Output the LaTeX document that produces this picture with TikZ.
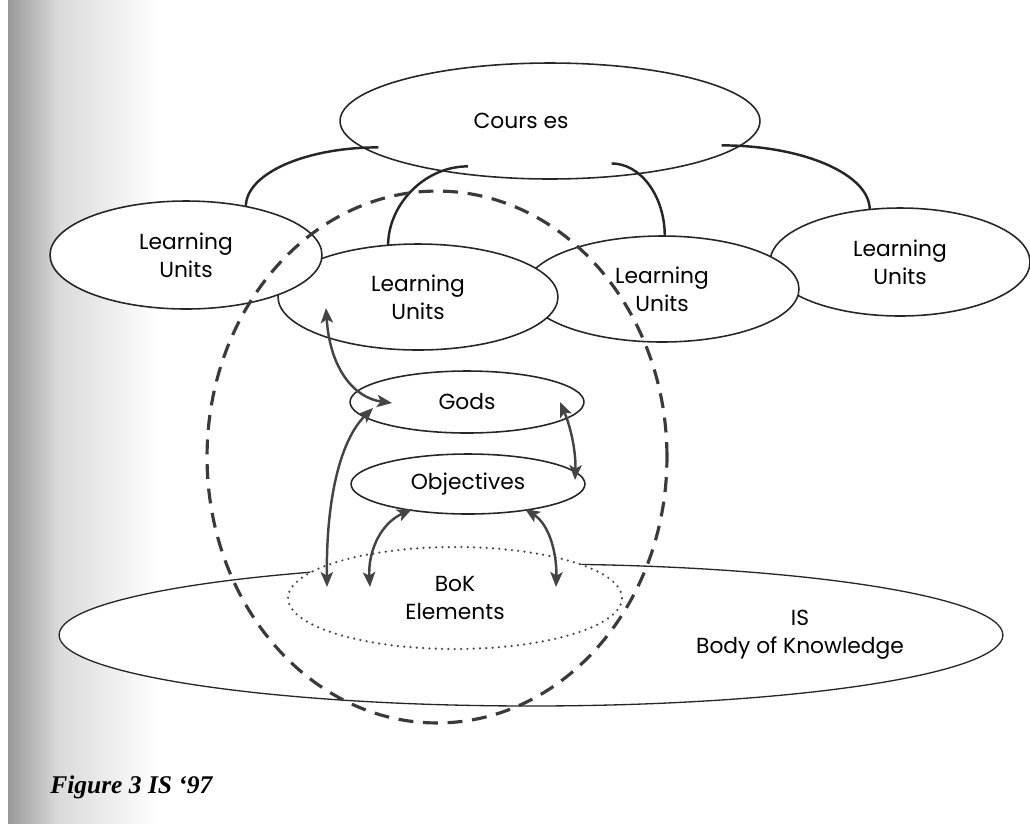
\documentclass[tikz,border=0pt]{standalone}
\usepackage{fontspec}
\setmainfont{Poppins}
\newfontfamily\capfont{Liberation Serif}
\usetikzlibrary{shapes.geometric,arrows.meta,calc}
\definecolor{ink}{HTML}{262626}
\definecolor{arr}{HTML}{444444}
\definecolor{dashc}{HTML}{3A3A3A}
\newcommand\lbl{\fontsize{12.4}{15.8}\selectfont}
\tikzset{
  oval/.style={ellipse, draw=ink, line width=0.9pt, fill=white, inner sep=0pt, outer sep=0pt, align=center, font=\lbl},
  dotline/.style={line width=1.4pt, line cap=round, dash pattern=on 0pt off 3.6pt},
  arcline/.style={draw=ink, line width=1.4pt},
  biarrow/.style={draw=arr, line width=1.4pt, {Stealth[length=8.5pt,width=7pt,inset=2pt]}-{Stealth[length=8.5pt,width=7pt,inset=2pt]}},
  scopeline/.style={draw=dashc, line width=1.8pt, dash pattern=on 8.5pt off 5.5pt},
  plain/.style={font=\lbl, align=center, inner sep=0pt}
}
\begin{document}
\begin{tikzpicture}[x=0.02cm, y=-0.02cm]
\useasboundingbox (0,0) rectangle (1030,823);
\shade[left color=black!40, right color=black!14] (8,0) rectangle (60,823);
\shade[left color=black!14, right color=white] (60,0) rectangle (160,823);
% body of knowledge
\node[oval, line width=0.75pt, minimum width=18.88cm, minimum height=2.84cm] (is) at (531,635) {};
\node[plain] (istext) at (800,635) {IS\\Body of Knowledge};
\node[oval, draw=ink!85, dotline, minimum width=6.68cm, minimum height=2.04cm] (bok) at (455,598) {BoK\\Elements};
% courses
\node[oval, minimum width=8.4cm, minimum height=2.32cm] (courses) at (550,121) {};
\node[plain] (coursestext) at (521,121) {Cours es};
% learning units
\node[oval, minimum width=5.2cm, minimum height=2.16cm] (lu4) at (900,262) {Learning\\Units};
\node[oval, minimum width=5.48cm, minimum height=2.12cm] (lu3) at (662,289) {Learning\\Units};
\node[oval, minimum width=5.6cm, minimum height=2.12cm] (lu2) at (418,297) {Learning\\Units};
\node[oval, minimum width=5.44cm, minimum height=2.16cm] (lu1) at (186,255) {Learning\\Units};
% goals / objectives
\node[oval, minimum width=4.68cm, minimum height=1.24cm] (goals) at (467,402) {Gods};
\node[oval, minimum width=4.68cm, minimum height=1.2cm] (obj) at (468,484) {Objectives};
% arcs from courses to learning units
\draw[arcline] ($(courses.191)+(0,-7)$) .. controls +(-73,0) and +(0,-33) .. (lu1.39);
\draw[arcline] ($(courses.213)+(0,-8)$) .. controls +(-44,0) and +(0,-40) .. (lu2.120);
\draw[arcline] ($(courses.318)+(0,-13)$) .. controls +(29,0) and +(0,-40) .. (lu3.87);
\draw[arcline] ($(courses.349)+(0,-9)$) .. controls +(82,0) and +(0,-35) .. (lu4.120);
% arrows
\draw[biarrow] ($(lu2)+(-92,11)$) .. controls +(4,62) and +(-37,-5) .. ($(goals)+(-75,1)$);
\draw[biarrow] ($(goals)+(-94,6)$) .. controls +(-33,32) and +(-1,-87) .. ($(bok)+(-128,-11)$);
\draw[biarrow] ($(goals)+(93,0)$) .. controls +(12,28) and +(1,-25) .. ($(obj)+(107,-4)$);
\draw[biarrow] ($(obj)+(-56,25)$) .. controls +(-34,16) and +(-2,-32) .. ($(bok)+(-85,-11)$);
\draw[biarrow] ($(obj)+(57,25)$) .. controls +(25,16) and +(1,-32) .. ($(bok)+(101,-11)$);
% dashed coverage ellipse
\node[ellipse, scopeline, inner sep=0pt, outer sep=0pt, minimum width=9.2cm, minimum height=10.64cm] (coverage) at (437,457) {};
% caption
\node[anchor=base west, inner sep=0pt, font=\capfont\bfseries\itshape\fontsize{14.5}{17}\selectfont] (caption) at (50,793) {Figure 3 IS ‘97};
\end{tikzpicture}
\end{document}
